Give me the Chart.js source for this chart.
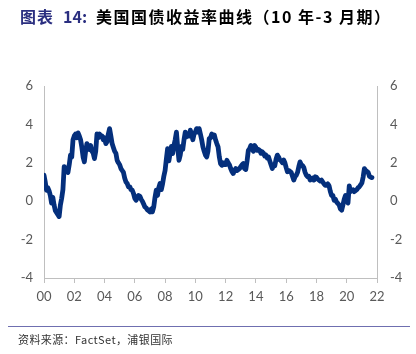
<!DOCTYPE html>
<html>
<head>
<meta charset="utf-8">
<script src="https://cdn.jsdelivr.net/npm/chart.js@4/dist/chart.umd.min.js"></script>
<style>
  html, body { margin: 0; padding: 0; background: #fff; }
  #wrap { position: relative; width: 416px; height: 354px; overflow: hidden; }
  #c { position: absolute; left: 0; top: 0; }
  .t { position: absolute; top: 4px; font-family: "Noto Sans CJK SC", sans-serif; font-weight: bold; font-size: 16px; color: #000; white-space: nowrap; }
  .lab { color: #2b2f80; }
  #t1 { left: 20px; letter-spacing: 1px; }
  #t2 { left: 63px; }
  #t3 { left: 96px; letter-spacing: 1.5px; }
  #rule { position: absolute; left: 8px; top: 326px; width: 402px; height: 1px; background: #6f6fb0; }
  #src { position: absolute; left: 18px; top: 331px; font-family: "Noto Sans CJK SC", sans-serif; font-size: 11px; color: #333; white-space: nowrap; letter-spacing: 0.4px; }
</style>
</head>
<body>
<div id="wrap">
  <canvas id="c" width="416" height="354"></canvas>
  <div class="t lab" id="t1">图表</div>
  <div class="t lab" id="t2">14:</div>
  <div class="t" id="t3">美国国债收益率曲线（10 年-3 月期）</div>
  <div id="rule"></div>
  <div id="src">资料来源：FactSet，浦银国际</div>
</div>
<script>
// First month of the series (January 2000), monthly values follow
const startYear = 2000;
// 10Y minus 3M US Treasury spread, monthly, Jan 2000 – Sep 2021 (percentage points)
const spread = [
  1.35, 1.0, 0.57, 0.7, 0.55, 0.3, -0.1, 0.2, -0.2, -0.5, -0.6, -0.7,
  -0.8, -0.2, 0.15, 0.6, 1.8, 1.7, 1.6, 1.5, 1.9, 2.4, 2.3, 3.2,
  3.4, 3.5, 3.3, 3.56, 3.4, 3.2, 2.8, 2.3, 2.05, 2.6, 3.0, 2.8,
  2.7, 2.9, 2.6, 2.5, 2.22, 2.6, 3.5, 3.3, 3.5, 3.35, 3.4, 3.2,
  3.3, 3.0, 3.1, 3.5, 3.78, 3.4, 3.0, 2.8, 2.6, 2.5, 2.13, 2.0,
  1.9, 1.7, 1.6, 1.5, 1.2, 1.0, 0.92, 0.75, 0.75, 0.6, 0.57, 0.4,
  0.15, 0.05, 0.2, 0.3, 0.26, 0.1, 0.0, -0.15, -0.3, -0.35, -0.45, -0.5,
  -0.56, -0.4, -0.55, -0.3, 0.2, 0.57, 0.3, 0.7, 0.92, 0.6, 0.9, 1.3,
  1.6, 2.2, 2.74, 2.1, 2.5, 2.85, 2.48, 2.9, 3.2, 3.6, 2.8, 2.13,
  2.4, 2.85, 2.7, 3.2, 3.6, 3.35, 3.5, 3.4, 3.7, 3.5, 3.2, 3.5,
  3.6, 3.78, 3.6, 3.78, 3.5, 3.2, 2.83, 2.6, 2.4, 2.3, 2.6, 3.26,
  3.3, 3.5, 3.35, 3.45, 3.2, 3.0, 2.83, 2.3, 1.95, 1.87, 2.0, 1.9,
  1.9, 2.13, 2.0, 1.9, 1.7, 1.55, 1.44, 1.6, 1.7, 1.6, 1.65, 1.7,
  1.8, 1.9, 1.96, 1.7, 1.65, 2.1, 2.65, 2.74, 2.9, 2.7, 2.6, 2.9,
  2.8, 2.65, 2.7, 2.65, 2.5, 2.57, 2.5, 2.35, 2.4, 2.25, 2.3, 2.1,
  1.9, 1.7, 1.9, 1.85, 2.2, 2.4, 2.3, 2.15, 2.1, 2.0, 2.15, 2.0,
  1.75, 1.53, 1.6, 1.55, 1.5, 1.3, 1.1, 1.27, 1.35, 1.5, 1.8, 2.05,
  1.9, 1.85, 1.75, 1.5, 1.35, 1.27, 1.3, 1.1, 1.15, 1.2, 1.1, 1.27,
  1.25, 1.15, 1.1, 1.05, 1.1, 1.0, 0.9, 0.83, 0.83, 0.9, 0.8, 0.5,
  0.3, 0.3, 0.05, 0.1, -0.05, -0.12, -0.2, -0.4, -0.47, -0.2, 0.1, 0.3,
  0.1, -0.1, 0.8, 0.5, 0.55, 0.6, 0.5, 0.55, 0.6, 0.7, 0.75, 0.85,
  0.95, 1.25, 1.7, 1.6, 1.55, 1.5, 1.3, 1.25, 1.23
];
// Axis tick labels
const xTickLabels = ['00','02','04','06','08','10','12','14','16','18','20','22'];
const yTicks = [-4, -2, 0, 2, 4, 6];

const points = spread.map((v, i) => ({ x: i / 12, y: v }));

const tickFont = { family: 'Lato, "Liberation Sans", sans-serif', size: 13 };
const tickColor = '#595959';
const axisColor = '#bfbfbf';

new Chart(document.getElementById('c'), {
  type: 'line',
  data: {
    datasets: [{
      data: points,
      borderColor: '#042f7c',
      borderWidth: 4.8,
      pointRadius: 0,
      tension: 0,
      borderJoinStyle: 'round',
      borderCapStyle: 'round',
      yAxisID: 'y'
    }]
  },
  options: {
    responsive: false,
    animation: false,
    events: [],
    layout: { padding: { top: 86, left: 0, right: 0, bottom: 0 } },
    plugins: { legend: { display: false }, tooltip: { enabled: false }, title: { display: false } },
    scales: {
      x: {
        type: 'linear',
        min: 0, max: 22,
        afterFit: s => { s.height = 76; },
        afterBuildTicks: s => { s.ticks = xTickLabels.map((_, i) => ({ value: i * 2 })); },
        ticks: {
          autoSkip: false, maxRotation: 0, padding: 6,
          font: tickFont, color: tickColor,
          callback: (v) => xTickLabels[Math.round(v / 2)]
        },
        grid: { display: true, drawOnChartArea: false, drawTicks: true, tickLength: 5, color: axisColor, lineWidth: 1 },
        border: { display: true, color: axisColor, width: 1 }
      },
      y: {
        position: 'left',
        min: -4, max: 6,
        afterFit: s => { s.width = 44; },
        afterBuildTicks: s => { s.ticks = yTicks.map(v => ({ value: v })); },
        ticks: { padding: 11, font: tickFont, color: tickColor },
        grid: { display: false, drawTicks: false },
        border: { display: true, color: axisColor, width: 1 }
      },
      y2: {
        position: 'right',
        min: -4, max: 6,
        afterFit: s => { s.width = 39; },
        afterBuildTicks: s => { s.ticks = yTicks.map(v => ({ value: v })); },
        ticks: { padding: 13, font: tickFont, color: tickColor },
        grid: { display: false, drawTicks: false },
        border: { display: true, color: axisColor, width: 1 }
      }
    }
  }
});
</script>
</body>
</html>
